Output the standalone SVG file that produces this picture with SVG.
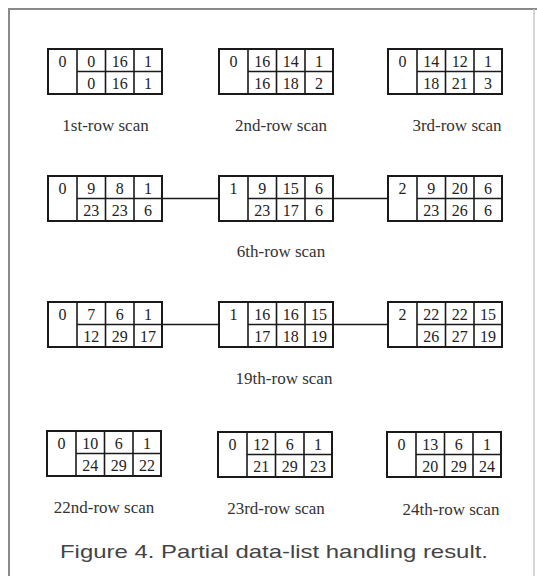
<svg xmlns="http://www.w3.org/2000/svg" xmlns:xlink="http://www.w3.org/1999/xlink" width="537" height="576" viewBox="0 0 537 576">
<style>
.frame{fill:none;stroke:#8a8a8a;stroke-width:2}
.grid rect{fill:#fff;stroke:#1a1a1a;stroke-width:2}
.grid line{stroke:#1a1a1a;stroke-width:1.6}
.conn line{stroke:#1a1a1a;stroke-width:1.6}
.n{font-family:"Liberation Serif","Times New Roman",serif;font-size:16px;fill:#222;text-anchor:middle}
.lbl{font-family:"Liberation Serif","Times New Roman",serif;font-size:17px;fill:#333;text-anchor:middle}
.cap{font-family:"Liberation Sans",Arial,sans-serif;font-size:19px;fill:#444}
</style>
<defs>
<g id="grid" class="grid">
<rect x="0" y="0" width="114" height="45"/>
<line x1="29" y1="0" x2="29" y2="45"/>
<line x1="57.5" y1="0" x2="57.5" y2="45"/>
<line x1="86" y1="0" x2="86" y2="45"/>
<line x1="29" y1="22.5" x2="114" y2="22.5"/>
</g>
</defs>
<rect width="537" height="576" fill="#fff"/>
<path class="frame" d="M9,576 V9 H537"/>
<line x1="534" y1="9" x2="534" y2="576" stroke="#c8c8c8" stroke-width="1.5"/>

<g id="connectors" class="conn">
<line x1="162" y1="198.5" x2="219" y2="198.5"/>
<line x1="333" y1="198.5" x2="388" y2="198.5"/>
<line x1="162" y1="324.5" x2="219" y2="324.5"/>
<line x1="333" y1="324.5" x2="388" y2="324.5"/>
</g>

<!-- Row 1 -->
<g id="r1a" transform="translate(48,49)">
<use xlink:href="#grid" href="#grid"/>
<text class="n" x="14.5" y="18">0</text>
<text class="n" x="43.25" y="18">0</text><text class="n" x="71.75" y="18">16</text><text class="n" x="100" y="18">1</text>
<text class="n" x="43.25" y="40">0</text><text class="n" x="71.75" y="40">16</text><text class="n" x="100" y="40">1</text>
</g>
<g id="r1b" transform="translate(219,49)">
<use xlink:href="#grid" href="#grid"/>
<text class="n" x="14.5" y="18">0</text>
<text class="n" x="43.25" y="18">16</text><text class="n" x="71.75" y="18">14</text><text class="n" x="100" y="18">1</text>
<text class="n" x="43.25" y="40">16</text><text class="n" x="71.75" y="40">18</text><text class="n" x="100" y="40">2</text>
</g>
<g id="r1c" transform="translate(388,49)">
<use xlink:href="#grid" href="#grid"/>
<text class="n" x="14.5" y="18">0</text>
<text class="n" x="43.25" y="18">14</text><text class="n" x="71.75" y="18">12</text><text class="n" x="100" y="18">1</text>
<text class="n" x="43.25" y="40">18</text><text class="n" x="71.75" y="40">21</text><text class="n" x="100" y="40">3</text>
</g>
<text class="lbl" x="105.5" y="131">1st-row scan</text>
<text class="lbl" x="281" y="131">2nd-row scan</text>
<text class="lbl" x="457" y="131">3rd-row scan</text>

<!-- Row 2 -->
<g id="r2a" transform="translate(48,176)">
<use xlink:href="#grid" href="#grid"/>
<text class="n" x="14.5" y="18">0</text>
<text class="n" x="43.25" y="18">9</text><text class="n" x="71.75" y="18">8</text><text class="n" x="100" y="18">1</text>
<text class="n" x="43.25" y="40">23</text><text class="n" x="71.75" y="40">23</text><text class="n" x="100" y="40">6</text>
</g>
<g id="r2b" transform="translate(219,176)">
<use xlink:href="#grid" href="#grid"/>
<text class="n" x="14.5" y="18">1</text>
<text class="n" x="43.25" y="18">9</text><text class="n" x="71.75" y="18">15</text><text class="n" x="100" y="18">6</text>
<text class="n" x="43.25" y="40">23</text><text class="n" x="71.75" y="40">17</text><text class="n" x="100" y="40">6</text>
</g>
<g id="r2c" transform="translate(388,176)">
<use xlink:href="#grid" href="#grid"/>
<text class="n" x="14.5" y="18">2</text>
<text class="n" x="43.25" y="18">9</text><text class="n" x="71.75" y="18">20</text><text class="n" x="100" y="18">6</text>
<text class="n" x="43.25" y="40">23</text><text class="n" x="71.75" y="40">26</text><text class="n" x="100" y="40">6</text>
</g>
<text class="lbl" x="281" y="257">6th-row scan</text>

<!-- Row 3 -->
<g id="r3a" transform="translate(48,302)">
<use xlink:href="#grid" href="#grid"/>
<text class="n" x="14.5" y="18">0</text>
<text class="n" x="43.25" y="18">7</text><text class="n" x="71.75" y="18">6</text><text class="n" x="100" y="18">1</text>
<text class="n" x="43.25" y="40">12</text><text class="n" x="71.75" y="40">29</text><text class="n" x="100" y="40">17</text>
</g>
<g id="r3b" transform="translate(219,302)">
<use xlink:href="#grid" href="#grid"/>
<text class="n" x="14.5" y="18">1</text>
<text class="n" x="43.25" y="18">16</text><text class="n" x="71.75" y="18">16</text><text class="n" x="100" y="18">15</text>
<text class="n" x="43.25" y="40">17</text><text class="n" x="71.75" y="40">18</text><text class="n" x="100" y="40">19</text>
</g>
<g id="r3c" transform="translate(388,302)">
<use xlink:href="#grid" href="#grid"/>
<text class="n" x="14.5" y="18">2</text>
<text class="n" x="43.25" y="18">22</text><text class="n" x="71.75" y="18">22</text><text class="n" x="100" y="18">15</text>
<text class="n" x="43.25" y="40">26</text><text class="n" x="71.75" y="40">27</text><text class="n" x="100" y="40">19</text>
</g>
<text class="lbl" x="284" y="384">19th-row scan</text>

<!-- Row 4 -->
<g id="r4a" transform="translate(47,431)">
<use xlink:href="#grid" href="#grid"/>
<text class="n" x="14.5" y="18">0</text>
<text class="n" x="43.25" y="18">10</text><text class="n" x="71.75" y="18">6</text><text class="n" x="100" y="18">1</text>
<text class="n" x="43.25" y="40">24</text><text class="n" x="71.75" y="40">29</text><text class="n" x="100" y="40">22</text>
</g>
<g id="r4b" transform="translate(218,432)">
<use xlink:href="#grid" href="#grid"/>
<text class="n" x="14.5" y="18">0</text>
<text class="n" x="43.25" y="18">12</text><text class="n" x="71.75" y="18">6</text><text class="n" x="100" y="18">1</text>
<text class="n" x="43.25" y="40">21</text><text class="n" x="71.75" y="40">29</text><text class="n" x="100" y="40">23</text>
</g>
<g id="r4c" transform="translate(387,432)">
<use xlink:href="#grid" href="#grid"/>
<text class="n" x="14.5" y="18">0</text>
<text class="n" x="43.25" y="18">13</text><text class="n" x="71.75" y="18">6</text><text class="n" x="100" y="18">1</text>
<text class="n" x="43.25" y="40">20</text><text class="n" x="71.75" y="40">29</text><text class="n" x="100" y="40">24</text>
</g>
<text class="lbl" x="104" y="513">22nd-row scan</text>
<text class="lbl" x="276" y="514">23rd-row scan</text>
<text class="lbl" x="451" y="515">24th-row scan</text>

<text class="cap" x="60" y="558" textLength="428" lengthAdjust="spacingAndGlyphs">Figure 4. Partial data-list handling result.</text>
</svg>
